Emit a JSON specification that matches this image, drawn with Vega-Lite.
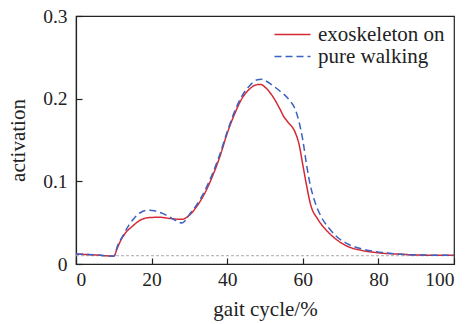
{
  "$schema": "https://vega.github.io/schema/vega-lite/v6.json",
  "width": 378,
  "height": 248,
  "autosize": {"type": "none"},
  "padding": {"left": 76, "top": 16, "right": 19, "bottom": 60},
  "background": "white",
  "config": {
    "view": {"stroke": "#222", "strokeWidth": 1.2},
    "font": "Liberation Serif",
    "axis": {"grid": false, "domainColor": "#222", "tickColor": "#222", "labelColor": "#222", "titleColor": "#222", "labelFont": "Liberation Serif", "titleFont": "Liberation Serif", "titleFontWeight": "normal", "labelFontSize": 19.5, "titleFontSize": 21, "tickSize": -6, "domainWidth": 1.2, "tickWidth": 1.2},
    "legend": {"labelFont": "Liberation Serif", "labelFontSize": 21, "labelColor": "#222"}
  },
  "datasets": {
    "curves": [
      {"x": 0, "y": 0.012, "s": "exoskeleton on"},
      {"x": 5, "y": 0.011, "s": "exoskeleton on"},
      {"x": 10, "y": 0.0095, "s": "exoskeleton on"},
      {"x": 11, "y": 0.02, "s": "exoskeleton on"},
      {"x": 12, "y": 0.03, "s": "exoskeleton on"},
      {"x": 13, "y": 0.037, "s": "exoskeleton on"},
      {"x": 15, "y": 0.046, "s": "exoskeleton on"},
      {"x": 17, "y": 0.053, "s": "exoskeleton on"},
      {"x": 19, "y": 0.056, "s": "exoskeleton on"},
      {"x": 22, "y": 0.0565, "s": "exoskeleton on"},
      {"x": 25, "y": 0.055, "s": "exoskeleton on"},
      {"x": 28, "y": 0.054, "s": "exoskeleton on"},
      {"x": 30, "y": 0.059, "s": "exoskeleton on"},
      {"x": 32, "y": 0.07, "s": "exoskeleton on"},
      {"x": 34, "y": 0.085, "s": "exoskeleton on"},
      {"x": 36, "y": 0.105, "s": "exoskeleton on"},
      {"x": 38, "y": 0.129, "s": "exoskeleton on"},
      {"x": 40, "y": 0.158, "s": "exoskeleton on"},
      {"x": 42, "y": 0.182, "s": "exoskeleton on"},
      {"x": 44, "y": 0.201, "s": "exoskeleton on"},
      {"x": 46, "y": 0.212, "s": "exoskeleton on"},
      {"x": 48, "y": 0.217, "s": "exoskeleton on"},
      {"x": 49, "y": 0.217, "s": "exoskeleton on"},
      {"x": 50, "y": 0.214, "s": "exoskeleton on"},
      {"x": 52, "y": 0.203, "s": "exoskeleton on"},
      {"x": 54, "y": 0.187, "s": "exoskeleton on"},
      {"x": 55, "y": 0.178, "s": "exoskeleton on"},
      {"x": 56, "y": 0.172, "s": "exoskeleton on"},
      {"x": 58, "y": 0.159, "s": "exoskeleton on"},
      {"x": 59, "y": 0.145, "s": "exoskeleton on"},
      {"x": 60, "y": 0.12, "s": "exoskeleton on"},
      {"x": 61, "y": 0.095, "s": "exoskeleton on"},
      {"x": 62, "y": 0.073, "s": "exoskeleton on"},
      {"x": 64, "y": 0.054, "s": "exoskeleton on"},
      {"x": 66, "y": 0.042, "s": "exoskeleton on"},
      {"x": 68, "y": 0.033, "s": "exoskeleton on"},
      {"x": 70, "y": 0.026, "s": "exoskeleton on"},
      {"x": 72, "y": 0.021, "s": "exoskeleton on"},
      {"x": 75, "y": 0.017, "s": "exoskeleton on"},
      {"x": 80, "y": 0.0135, "s": "exoskeleton on"},
      {"x": 85, "y": 0.012, "s": "exoskeleton on"},
      {"x": 90, "y": 0.011, "s": "exoskeleton on"},
      {"x": 95, "y": 0.0105, "s": "exoskeleton on"},
      {"x": 100, "y": 0.0105, "s": "exoskeleton on"},
      {"x": 0, "y": 0.012, "s": "pure walking"},
      {"x": 5, "y": 0.011, "s": "pure walking"},
      {"x": 10, "y": 0.0095, "s": "pure walking"},
      {"x": 11, "y": 0.022, "s": "pure walking"},
      {"x": 12.5, "y": 0.035, "s": "pure walking"},
      {"x": 14, "y": 0.047, "s": "pure walking"},
      {"x": 15.5, "y": 0.056, "s": "pure walking"},
      {"x": 17, "y": 0.062, "s": "pure walking"},
      {"x": 19, "y": 0.065, "s": "pure walking"},
      {"x": 21, "y": 0.064, "s": "pure walking"},
      {"x": 23, "y": 0.061, "s": "pure walking"},
      {"x": 25.5, "y": 0.055, "s": "pure walking"},
      {"x": 27, "y": 0.051, "s": "pure walking"},
      {"x": 28, "y": 0.0495, "s": "pure walking"},
      {"x": 29, "y": 0.053, "s": "pure walking"},
      {"x": 30, "y": 0.06, "s": "pure walking"},
      {"x": 32, "y": 0.072, "s": "pure walking"},
      {"x": 34, "y": 0.088, "s": "pure walking"},
      {"x": 36, "y": 0.108, "s": "pure walking"},
      {"x": 38, "y": 0.132, "s": "pure walking"},
      {"x": 40, "y": 0.16, "s": "pure walking"},
      {"x": 42, "y": 0.185, "s": "pure walking"},
      {"x": 44, "y": 0.204, "s": "pure walking"},
      {"x": 46, "y": 0.216, "s": "pure walking"},
      {"x": 48, "y": 0.223, "s": "pure walking"},
      {"x": 49, "y": 0.2235, "s": "pure walking"},
      {"x": 50, "y": 0.222, "s": "pure walking"},
      {"x": 52, "y": 0.216, "s": "pure walking"},
      {"x": 54, "y": 0.209, "s": "pure walking"},
      {"x": 56.5, "y": 0.198, "s": "pure walking"},
      {"x": 58, "y": 0.187, "s": "pure walking"},
      {"x": 59, "y": 0.172, "s": "pure walking"},
      {"x": 60, "y": 0.15, "s": "pure walking"},
      {"x": 61, "y": 0.12, "s": "pure walking"},
      {"x": 62, "y": 0.095, "s": "pure walking"},
      {"x": 63, "y": 0.078, "s": "pure walking"},
      {"x": 65, "y": 0.056, "s": "pure walking"},
      {"x": 67, "y": 0.043, "s": "pure walking"},
      {"x": 69, "y": 0.033, "s": "pure walking"},
      {"x": 72, "y": 0.024, "s": "pure walking"},
      {"x": 75, "y": 0.019, "s": "pure walking"},
      {"x": 78, "y": 0.016, "s": "pure walking"},
      {"x": 83, "y": 0.013, "s": "pure walking"},
      {"x": 90, "y": 0.011, "s": "pure walking"},
      {"x": 100, "y": 0.0105, "s": "pure walking"}
    ],
    "baseline": [{"y": 0.01}]
  },
  "layer": [
    {
      "data": {"name": "baseline"},
      "mark": {"type": "rule", "color": "#aaaaaa", "strokeWidth": 1, "strokeDash": [3, 2]},
      "encoding": {"y": {"field": "y", "type": "quantitative"}}
    },
    {
      "data": {"name": "curves"},
      "mark": {"type": "line", "interpolate": "monotone", "strokeWidth": 1.5},
      "encoding": {
        "x": {"field": "x", "type": "quantitative", "scale": {"domain": [0, 100], "nice": false}, "axis": {"values": [0, 20, 40, 60, 80, 100], "title": "gait cycle/%", "labelPadding": 12, "titlePadding": 10}},
        "y": {"field": "y", "type": "quantitative", "scale": {"domain": [0, 0.3], "nice": false}, "axis": {"values": [0, 0.1, 0.2, 0.3], "labelExpr": "datum.value == 0 ? '0' : format(datum.value, '.1f')", "title": "activation", "labelPadding": 15, "titlePadding": 14}},
        "color": {"field": "s", "type": "nominal", "scale": {"domain": ["exoskeleton on", "pure walking"], "range": ["#d42a34", "#3b62c2"]}, "legend": {"title": null, "orient": "none", "legendX": 206, "legendY": 8, "symbolType": "M -2 0 L 2 0", "symbolSize": 324, "symbolStrokeWidth": 1.5, "labelOffset": 15, "rowPadding": 0}},
        "strokeDash": {"field": "s", "type": "nominal", "scale": {"domain": ["exoskeleton on", "pure walking"], "range": [[1, 0], [7, 4]]}, "legend": null}
      }
    }
  ]
}
